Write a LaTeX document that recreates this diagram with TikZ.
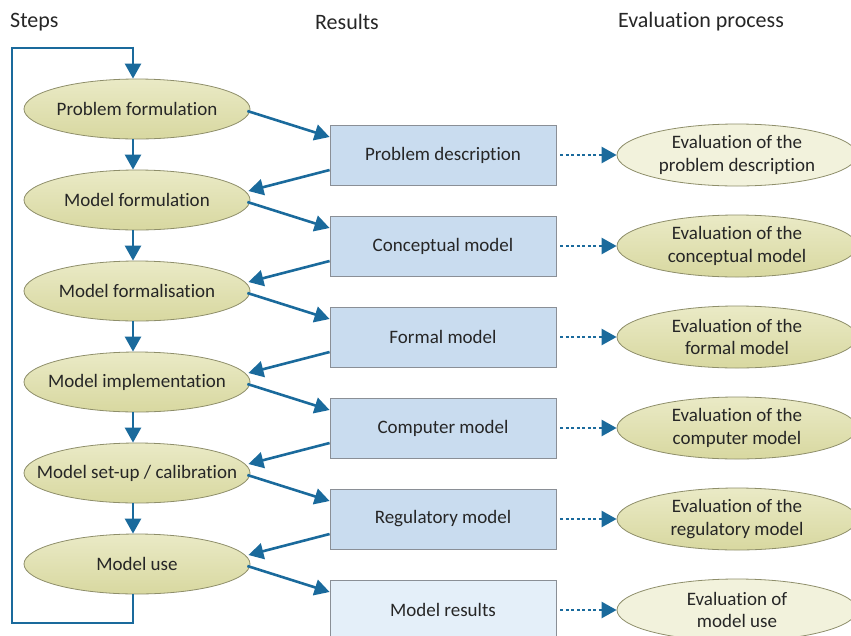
\documentclass[tikz,border=0pt]{standalone}
\usepackage{fontspec}
\setmainfont{Carlito}[Ligatures=NoCommon]
\usetikzlibrary{shapes.geometric,arrows.meta,calc}
\definecolor{arr}{HTML}{1A6A9C}
\definecolor{ellfill}{HTML}{D8D8A0}
\definecolor{ellfilltop}{HTML}{EAEAC6}
\definecolor{elllight}{HTML}{F2F2DC}
\definecolor{elledge}{HTML}{8E8E6A}
\definecolor{boxfill}{HTML}{C9DCEF}
\definecolor{boxlight}{HTML}{E4EFF9}
\definecolor{boxedge}{HTML}{8A8F96}
\definecolor{txt}{HTML}{262626}
\tikzset{
  stepell/.style={ellipse, draw=elledge, line width=0.8pt, top color=ellfilltop, bottom color=ellfill,
    minimum width=226pt, minimum height=60pt, inner xsep=-30pt, inner ysep=-8pt, text=txt, font=\fontsize{19}{21}\selectfont},
  evalell/.style={stepell, minimum width=240pt, minimum height=62pt, align=center, font=\fontsize{19}{22.5}\selectfont},
  evallight/.style={evalell, top color=elllight, bottom color=elllight},
  resbox/.style={rectangle, draw=boxedge, line width=0.8pt, fill=boxfill, minimum width=226pt, minimum height=60pt,
    inner sep=0pt, text=txt, font=\fontsize{19}{21}\selectfont},
  reslight/.style={resbox, fill=boxlight},
  head/.style={text=txt, font=\fontsize{22}{24}\selectfont, inner sep=0pt},
  flow/.style={draw=arr, line width=2.6pt, -{Triangle[length=15pt,width=16pt]}},
  evalflow/.style={draw=arr, line width=2.6pt, dash pattern=on 3pt off 2.5pt, -{Triangle[length=15pt,width=16pt]}},
  loopline/.style={draw=arr, line width=2.6pt}
}
\begin{document}
\begin{tikzpicture}[x=1pt,y=-1pt]
\useasboundingbox (0,0) rectangle (851,635);
\clip (0,0) rectangle (851,635);
% headers
\node[head, anchor=west] (hsteps) at (10,22) {Steps};
\node[head] (hres) at (347,22) {Results};
\node[head] (heval) at (701,22) {Evaluation process};
% steps
\node[stepell] (s1) at (137,109) {Problem formulation};
\node[stepell] (s2) at (137,200) {Model formulation};
\node[stepell] (s3) at (137,291) {Model formalisation};
\node[stepell] (s4) at (137,382) {Model implementation};
\node[stepell] (s5) at (137,473) {Model set-up / calibration};
\node[stepell] (s6) at (137,564) {Model use};
% results
\node[resbox] (r1) at (443,155) {Problem description};
\node[resbox] (r2) at (443,246) {Conceptual model};
\node[resbox] (r3) at (443,337) {Formal model};
\node[resbox] (r4) at (443,428) {Computer model};
\node[resbox] (r5) at (443,519) {Regulatory model};
\node[reslight] (r6) at (443,610) {Model results};
% evaluations
\node[evallight] (e1) at (737,155) {Evaluation of the\\problem description};
\node[evalell] (e2) at (737,246) {Evaluation of the\\conceptual model};
\node[evalell] (e3) at (737,337) {Evaluation of the\\formal model};
\node[evalell] (e4) at (737,428) {Evaluation of the\\computer model};
\node[evalell] (e5) at (737,519) {Evaluation of the\\regulatory model};
\node[evallight] (e6) at (737,610) {Evaluation of\\model use};
% vertical arrows
\foreach \a/\b in {s1/s2,s2/s3,s3/s4,s4/s5,s5/s6}{
  \draw[flow] ($(\a.south)+(-4,0)$) -- ($(\b.north)+(-4,0)$);
}
% loop
\coordinate (lb) at (133,623);
\coordinate (ll) at (12,623);
\coordinate (lt) at (12,48);
\coordinate (ltr) at (133,48);
\draw[loopline] ($(s6.south)+(-4,0)$) -- (lb) -- (ll) -- (lt) -- (ltr);
\draw[flow] ($(ltr)+(0,-1.3)$) -- ($(s1.north)+(-4,0)$);
% forward and back arrows
\foreach \s/\r/\n in {s1/r1/s2,s2/r2/s3,s3/r3/s4,s4/r4/s5,s5/r5/s6}{
  \draw[flow] ($(\s.east)+(-3,2)$) -- ($(\r.west)+(0,-18)$);
  \draw[flow] ($(\r.west)+(0,15)$) -- ($(\n.east)+(-2,-9)$);
}
\draw[flow] ($(s6.east)+(-3,2)$) -- ($(r6.west)+(0,-18)$);
% evaluation arrows
\foreach \r/\e in {r1/e1,r2/e2,r3/e3,r4/e4,r5/e5,r6/e6}{
  \draw[evalflow] ($(\r.east)+(4,0)$) -- (\e.west);
}
\end{tikzpicture}
\end{document}
